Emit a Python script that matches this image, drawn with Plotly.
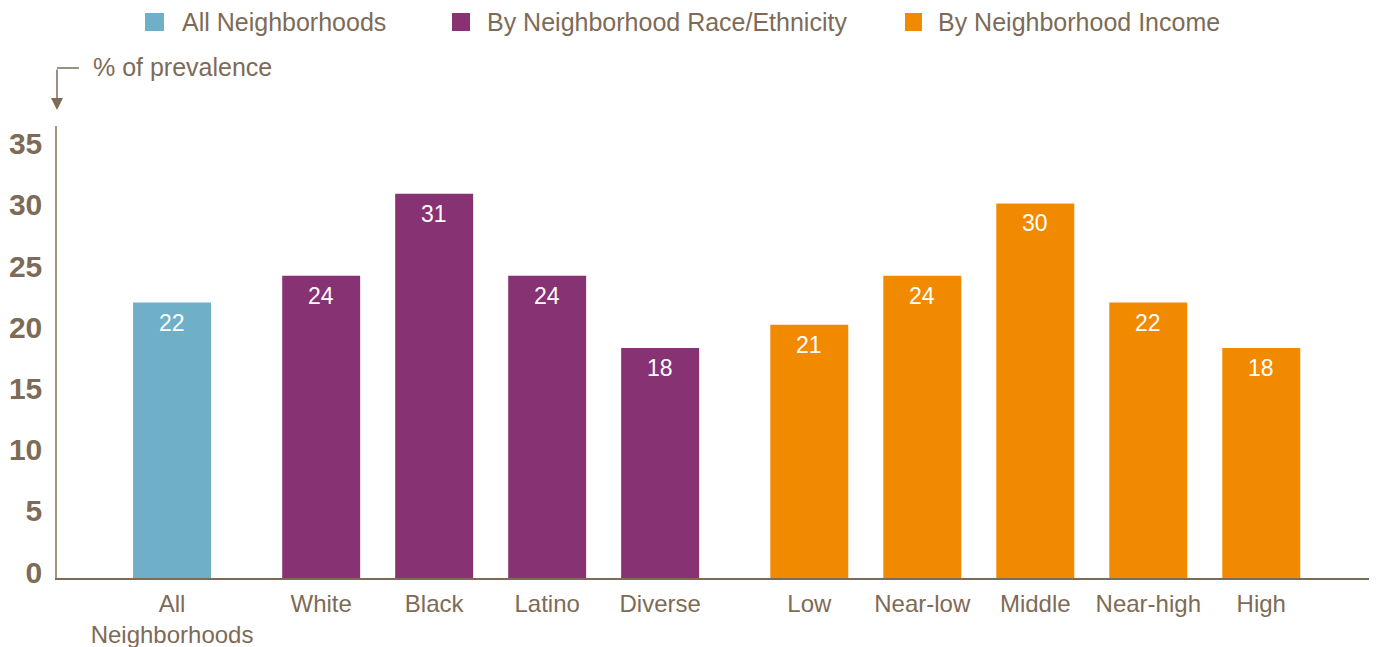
import plotly.graph_objects as go

# ---- data ----
groups = ["All Neighborhoods", "By Neighborhood Race/Ethnicity", "By Neighborhood Income"]
group_categories = [
    ["All<br>Neighborhoods"],
    ["White", "Black", "Latino", "Diverse"],
    ["Low", "Near-low", "Middle", "Near-high", "High"],
]
group_values = [
    [22.5],
    [24.7, 31.4, 24.7, 18.8],
    [20.7, 24.7, 30.6, 22.5, 18.8],
]
group_labels = [
    ["22"],
    ["24", "31", "24", "18"],
    ["21", "24", "30", "22", "18"],
]
group_colors = ["#6fb0c8", "#873272", "#f28a00"]
y_ticks = [0, 5, 10, 15, 20, 25, 30, 35]
y_title = "% of prevalence"

# ---- styling ----
TEXT = "#7d6b57"
FONT = "Liberation Sans, Arial, Helvetica, sans-serif"
NARROW = "Liberation Sans Narrow, Arial Narrow, Liberation Sans, Arial, sans-serif"
OFF = 8                      # page body margin offset
W, H = 1377 - OFF, 647 - OFF
L, T = 57 - OFF, 126 - OFF
R = W - (1372 - OFF)
B = H - (578 - OFF)
PW, PH = W - L - R, H - T - B
GAP = 0.32
BAR_W = 0.69


def px2x(px):
    return (px - OFF - L) / PW


def py2y(py):
    return (H - B - (py - OFF)) / PH


fig = go.Figure()

tickvals, ticktext = [], []
cursor = 0.0
for g, (name, cats, vals, labs, col) in enumerate(
        zip(groups, group_categories, group_values, group_labels, group_colors)):
    xs = []
    for c in cats:
        xs.append(cursor)
        tickvals.append(cursor)
        ticktext.append(c)
        cursor += 1
    cursor += GAP
    fig.add_trace(go.Bar(
        x=xs, y=vals, name=name, width=BAR_W, marker=dict(color=col, line=dict(width=0)),
        showlegend=False, hoverinfo="skip",
    ))
    for x, v, lab in zip(xs, vals, labs):
        fig.add_annotation(
            x=x, y=v, xref="x", yref="y", text=lab, showarrow=False,
            yanchor="top", yshift=-5,
            font=dict(family=NARROW, size=23, color="white"),
        )

# manual legend
legend_sq = [(145, 164), (452, 470), (905, 922)]
legend_tx = [182, 487, 938]
for name, col, (x0, x1), tx in zip(groups, group_colors, legend_sq, legend_tx):
    fig.add_shape(type="rect", xref="paper", yref="paper",
                  x0=px2x(x0), x1=px2x(x1), y0=py2y(31), y1=py2y(13),
                  fillcolor=col, line=dict(width=0))
    fig.add_annotation(xref="paper", yref="paper", x=px2x(tx - 2), y=py2y(22),
                       xanchor="left", yanchor="middle", showarrow=False,
                       text=name, font=dict(family=FONT, size=25, color=TEXT))

# y-axis title with elbow arrow
fig.add_annotation(xref="paper", yref="paper", x=px2x(91), y=py2y(67),
                   xanchor="left", yanchor="middle", showarrow=False,
                   text=y_title, font=dict(family=FONT, size=25, color=TEXT))
fig.add_shape(type="line", xref="paper", yref="paper",
              x0=px2x(57), x1=px2x(79), y0=py2y(68), y1=py2y(68),
              line=dict(color=TEXT, width=1.5))
fig.add_annotation(xref="paper", yref="paper", x=px2x(57), y=py2y(110),
                   ax=0, ay=-42, text="", showarrow=True,
                   arrowhead=2, arrowsize=1.6, arrowwidth=1.5, arrowcolor=TEXT)

fig.update_layout(
    width=W, height=H,
    margin=dict(l=L, r=R, t=T, b=B, autoexpand=False),
    paper_bgcolor="white", plot_bgcolor="white",
    showlegend=False,
    xaxis=dict(
        range=[-1.018, 10.62], tickvals=tickvals, ticktext=ticktext,
        showgrid=False, zeroline=False, showline=True, linecolor=TEXT, linewidth=2,
        ticks="", ticklabelstandoff=3, automargin=False,
        tickfont=dict(family=FONT, size=24, color=TEXT),
    ),
    yaxis=dict(
        range=[0, 36.93], tickvals=y_ticks, showgrid=False, zeroline=False,
        showline=True, linecolor="#a39482", linewidth=1.5, ticks="",
        ticklabelstandoff=7, ticklabelshift=-6, automargin=False,
        tickfont=dict(family=FONT, size=30, color=TEXT, weight="bold"),
    ),
)

fig.write_html("out.html")
